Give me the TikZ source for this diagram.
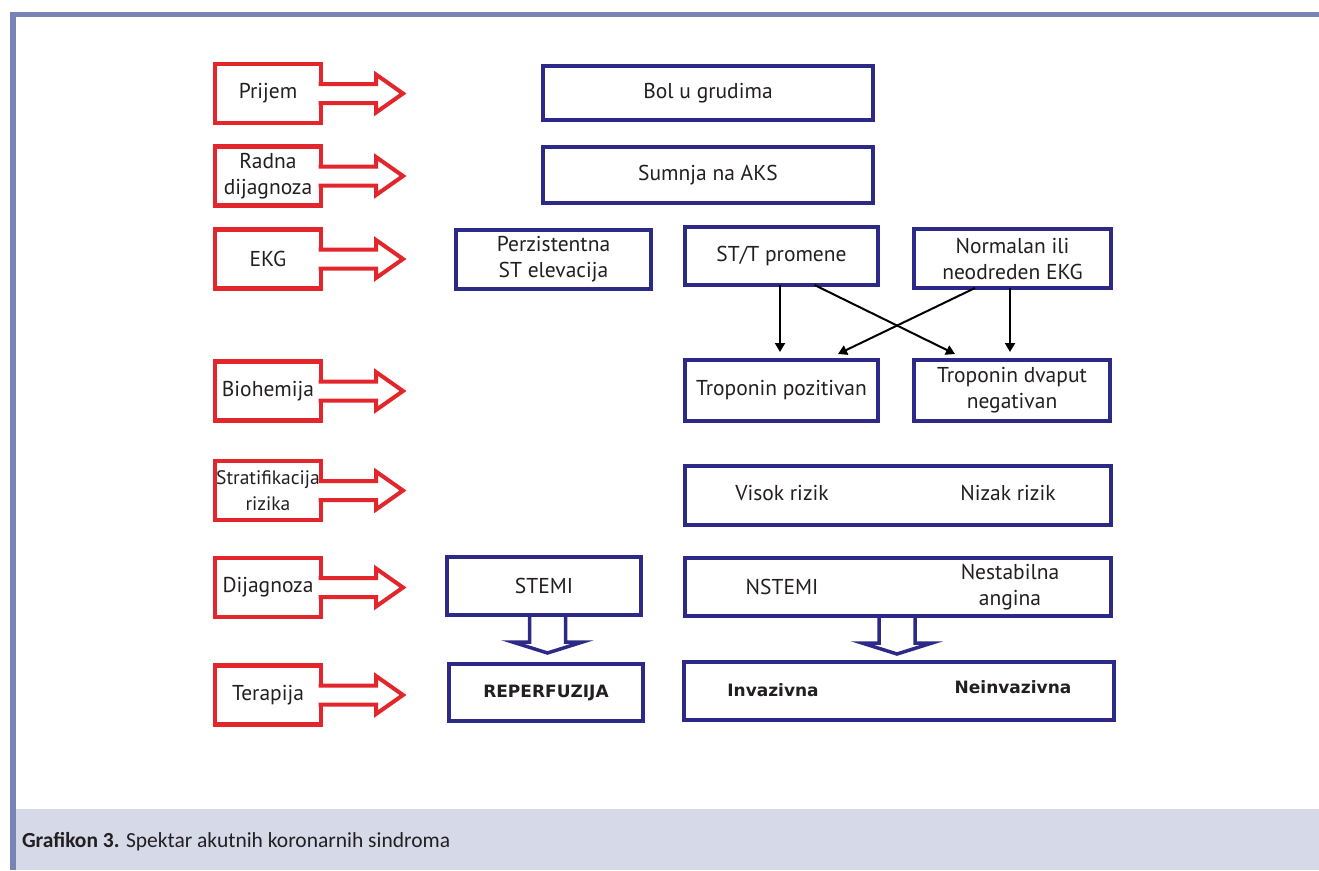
\documentclass[tikz,border=0pt]{standalone}
\usepackage{fontspec}
\setmainfont{PT Sans}
\newfontfamily\capfont{Carlito}
\newfontfamily\heavyfont{DejaVu Sans}
\usetikzlibrary{arrows.meta}
\definecolor{stagered}{HTML}{E3262B}
\definecolor{boxblue}{HTML}{2D2A87}
\definecolor{frameblue}{HTML}{7884B6}
\definecolor{capband}{HTML}{D5D9E8}
\definecolor{textgray}{HTML}{231F20}
\newcommand{\heavy}{\heavyfont\bfseries\fontsize{17}{20}\selectfont}

\begin{document}
\begin{tikzpicture}[x=1pt, y=-1pt,
            every node/.style={font=\fontsize{21.5}{26}\selectfont, text=textgray, align=center, inner sep=0pt, outer sep=0pt},
            stage/.style={draw=stagered, line width=4.5pt, minimum width=106pt, minimum height=59pt},
            box/.style={draw=boxblue, line width=4pt, fill=white},
            stage_arrow/.style={draw=stagered, fill=white, line width=4pt, line join=miter},
            box_arrow/.style={draw=boxblue, fill=white, line width=3.5pt, line join=miter},
            link/.style={draw=black, line width=2pt, -{Triangle[length=9pt,width=10pt]}}]
            \useasboundingbox (0,0) rectangle (1319,870);
            % frame and caption band
            \fill[frameblue] (10,12) rectangle (1319,17);
            \fill[frameblue] (10,12) rectangle (16,870);
            \fill[capband] (16,809) rectangle (1319,870);
            \node[anchor=west, font=\capfont\fontsize{21.5}{26}\selectfont] (caption) at (22,842)
                {\textbf{Grafikon 3.} Spektar akutnih koronarnih sindroma};
            % stages
            \node [stage] (prijem) at (268, 93.5) {Prijem};
            \node [stage] (radna) at (268, 176) {Radna\\dijagnoza};
            \node [stage] (ekg) at (268, 259) {EKG};
            \node [stage] (bio) at (268, 391) {Biohemija};
            \node [stage, font=\fontsize{19.5}{26}\selectfont] (strat) at (268, 490.5) {\makebox[100pt]{Stratifikacija}\\rizika};
            \node [stage] (dij) at (268, 587.5) {Dijagnoza};
            \node [stage] (ter) at (268, 695) {Terapija};
            \foreach \s in {prijem, radna, ekg, bio, strat, dij, ter}
                \draw[stage_arrow] ([shift={(-2.5,-9.5)}]\s.east) -- ++(57.5,0) -- ++(0,-9.5)
                    -- ++(27,19) -- ++(-27,19) -- ++(0,-9.5) -- ++(-57.5,0);
            % boxes
            \node [box, minimum width=330pt, minimum height=54pt] (bol) at (708, 93) {Bol u grudima};
            \node [box, minimum width=330pt, minimum height=56pt] (sumnja) at (708, 175) {Sumnja na AKS};
            \node [box, minimum width=195pt, minimum height=59pt] (perz) at (553.5, 259.5) {Perzistentna\\ST elevacija};
            \node [box, minimum width=193pt, minimum height=58pt] (stt) at (781.5, 256) {ST/T promene};
            \node [box, minimum width=197pt, minimum height=59pt] (norm) at (1012.5, 258.5) {Normalan ili\\neodreden EKG};
            \node [box, minimum width=193pt, minimum height=61pt] (tpoz) at (781.5, 390.5) {Troponin pozitivan};
            \node [box, minimum width=196pt, minimum height=61pt] (tneg) at (1012, 390.5) {Troponin dvaput\\negativan};
            \node [box, minimum width=426pt, minimum height=59pt] (rizik) at (898, 495.5) {};
            \node (visok) at (782, 493) {Visok rizik};
            \node (nizak) at (1008, 493) {Nizak rizik};
            \node [box, minimum width=194pt, minimum height=58pt] (stemi) at (544, 586) {STEMI};
            \node [box, minimum width=426pt, minimum height=58pt] (nstemi) at (898, 587) {};
            \node (nst) at (782, 587) {NSTEMI};
            \node (nestab) at (1010, 587) {Nestabilna\\angina};
            \node [box, minimum width=194pt, minimum height=57pt, font=\heavy] (reperf) at (546, 692.5) {REPERFUZIJA};
            \node [box, minimum width=430pt, minimum height=58pt] (terap) at (899, 691) {};
            \node [font=\heavy] (inv) at (773, 690) {Invazivna};
            \node [font=\heavy] (neinv) at (1013, 687) {Neinvazivna};
            % links
            \draw[link] ([xshift=-1.5pt]stt.south) -- ([xshift=-1.5pt, yshift=8pt]tpoz.north);
            \draw[link] ([xshift=-2.5pt]norm.south) -- ([xshift=-2pt, yshift=8pt]tneg.north);
            \draw[link] ([xshift=33pt]stt.south) -- ([xshift=-57pt, yshift=6pt]tneg.north);
            \draw[link] ([xshift=-37.5pt]norm.south) -- ([xshift=56.5pt, yshift=6pt]tpoz.north);
            \foreach \s/\dx in {stemi/3.5, nstemi/-1}
                \draw[box_arrow] ([shift={(\dx-18,2)}]\s.south) -- ++(0,25) -- ++(-17,0)
                    -- ++(35,11) -- ++(35,-11) -- ++(-17,0) -- ++(0,-25);
        \end{tikzpicture}
\end{document}
